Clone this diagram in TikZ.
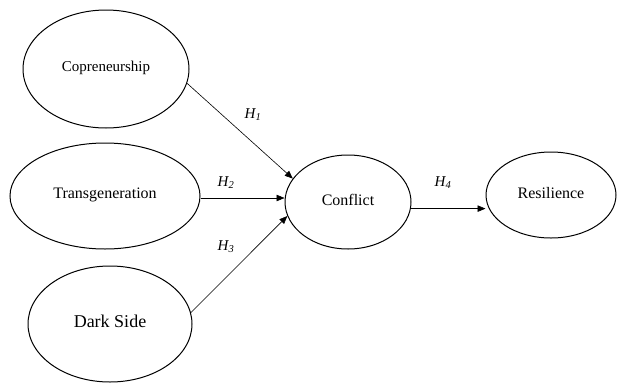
\documentclass[tikz,border=0pt]{standalone}
\usepackage{fontspec}
\setmainfont{Liberation Serif}
\usetikzlibrary{shapes.geometric,arrows.meta}

\begin{document}
\begin{tikzpicture}[x=1pt,y=-1pt]
  \tikzstyle{every node}+=[inner sep=0pt]
  \tikzstyle{construct}=[draw=black, ellipse, line width=1pt]
  \tikzstyle{hyp}=[draw=black, line width=0.6pt, -{Triangle[length=8pt,width=6.5pt]}]
  \tikzstyle{hlabel}=[font=\fontsize{15}{18}\selectfont\itshape]
  \useasboundingbox (0,0) rectangle (618,383);
  % constructs
  \node [construct, minimum width=166pt, minimum height=118pt] (copre) at (106,69)
    {\fontsize{15}{18}\selectfont\raisebox{5pt}{Copreneurship}};
  \node [construct, minimum width=190pt, minimum height=106pt] (trans) at (105,196)
    {\fontsize{16}{19}\selectfont\raisebox{6pt}{Transgeneration}};
  \node [construct, minimum width=164pt, minimum height=116pt] (dark) at (110,324)
    {\fontsize{18}{21}\selectfont\raisebox{5pt}{Dark Side}};
  \node [construct, minimum width=126pt, minimum height=94pt] (conflict) at (348,202)
    {\fontsize{16}{19}\selectfont\raisebox{4pt}{Conflict}};
  \node [construct, minimum width=130pt, minimum height=86pt] (res) at (551,195)
    {\fontsize{16}{19}\selectfont\raisebox{4pt}{Resilience}};
  % hypotheses
  \draw [hyp] (copre.-10) -- (conflict.157);
  \draw [hyp] (trans.east |- 0,198) -- (conflict.west |- 0,198);
  \draw [hyp] (dark.8) -- (conflict.193);
  \draw [hyp] (conflict.-6) -- (conflict.-6 -| res.west);
  \node [hlabel] (h1) at (253,115) {H\textsubscript{1}};
  \node [hlabel] (h2) at (226,183) {H\textsubscript{2}};
  \node [hlabel] (h3) at (226,247) {H\textsubscript{3}};
  \node [hlabel] (h4) at (443,183) {H\textsubscript{4}};
\end{tikzpicture}
\end{document}
